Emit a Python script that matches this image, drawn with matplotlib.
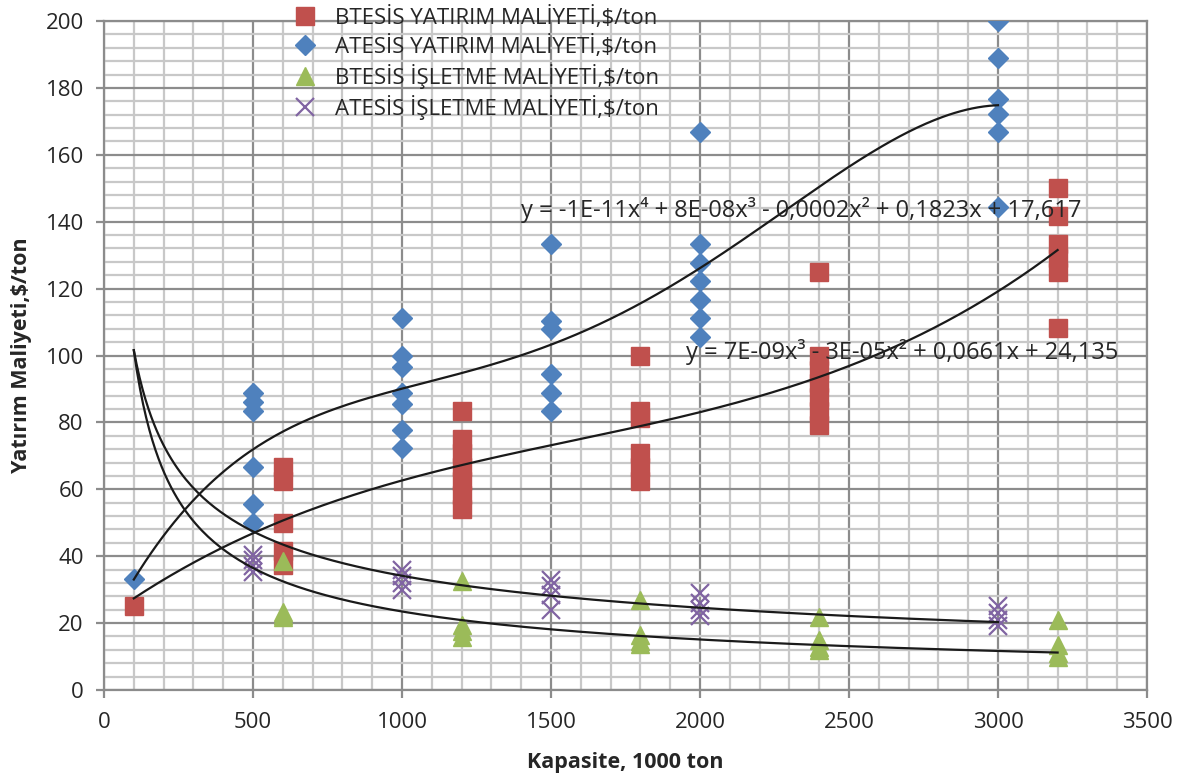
import numpy as np
import matplotlib
matplotlib.use("Agg")
import matplotlib.pyplot as plt
from matplotlib.ticker import MultipleLocator

plt.rcParams['font.family'] = ['Open Sans', 'DejaVu Sans']

# ---- data ----
bt_yat_x = [100, 600, 600, 600, 600, 600,
            1200, 1200, 1200, 1200, 1200, 1200, 1200,
            1800, 1800, 1800, 1800, 1800, 1800,
            2400, 2400, 2400, 2400, 2400, 2400, 2400,
            3200, 3200, 3200, 3200, 3200, 3200]
bt_yat_y = [25.0, 66.7, 62.5, 50.0, 41.7, 37.5,
            83.3, 75.0, 70.8, 66.7, 62.5, 58.3, 54.2,
            100.0, 83.3, 81.3, 70.8, 66.7, 62.5,
            125.0, 100.0, 95.8, 91.7, 87.5, 83.3, 79.2,
            150.0, 141.7, 133.3, 129.2, 125.0, 108.3]

at_yat_x = [100, 500, 500, 500, 500, 500, 500,
            1000, 1000, 1000, 1000, 1000, 1000, 1000,
            1500, 1500, 1500, 1500, 1500, 1500,
            2000, 2000, 2000, 2000, 2000, 2000, 2000,
            3000, 3000, 3000, 3000, 3000, 3000]
at_yat_y = [33.3, 88.9, 86.1, 83.3, 66.7, 55.6, 50.0,
            111.1, 100.0, 96.7, 88.9, 85.6, 77.8, 72.2,
            133.3, 110.3, 107.8, 94.4, 88.9, 83.3,
            166.7, 133.3, 127.8, 122.2, 116.7, 111.1, 105.6,
            200.0, 188.9, 176.7, 172.2, 166.7, 144.4]

bt_isl_x = [600, 600, 600, 600, 1200, 1200, 1200, 1200,
            1800, 1800, 1800, 1800, 2400, 2400, 2400, 2400,
            3200, 3200, 3200, 3200]
bt_isl_y = [38.5, 23.4, 22.5, 21.8, 32.5, 19.5, 17.5, 15.8,
            26.8, 16.5, 14.5, 13.8, 21.8, 15.0, 12.8, 12.0,
            20.8, 13.5, 11.0, 10.0]

at_isl_x = [500, 500, 500, 500, 1000, 1000, 1000, 1000,
            1500, 1500, 1500, 1500, 2000, 2000, 2000, 2000,
            3000, 3000, 3000, 3000]
at_isl_y = [40.5, 38.9, 37.0, 35.2, 36.0, 34.0, 32.0, 30.0,
            33.0, 31.0, 28.5, 24.0, 29.0, 26.0, 24.0, 22.0,
            25.0, 23.0, 21.0, 19.0]

labels = ["BTESİS YATIRIM MALİYETİ,$/ton",
          "ATESİS YATIRIM MALİYETİ,$/ton",
          "BTESİS İŞLETME MALİYETİ,$/ton",
          "ATESİS İŞLETME MALİYETİ,$/ton"]

# power trend lines (y = a * x^b) as shown on the chart
at_isl_trend = (899.2, -0.4735)
bt_isl_trend = (1903.0, -0.6363)
trend_start_x = 100

eq_at = "y = -1E-11x⁴ + 8E-08x³ - 0,0002x² + 0,1823x + 17,617"
eq_bt = "y = 7E-09x³ - 3E-05x² + 0,0661x + 24,135"

# ---- figure ----
fig = plt.figure(figsize=(11.78, 7.8), dpi=100)
ax = fig.add_axes([104/1178, 1-690/780, (1147-104)/1178, (690-21)/780])

red, blue, green, purple = '#C0504D', '#4F81BD', '#9BBB59', '#8064A2'
txt = '#262626'

h1, = ax.plot(bt_yat_x, bt_yat_y, 's', color=red, ms=13.5, mec=red, ls='none', zorder=3)
h2, = ax.plot(at_yat_x, at_yat_y, 'D', color=blue, ms=10.3, mec=blue, ls='none', zorder=3)
h3, = ax.plot(bt_isl_x, bt_isl_y, '^', color=green, ms=13.5, mec=green, ls='none', zorder=3)
h4, = ax.plot(at_isl_x, at_isl_y, 'x', color=purple, ms=13, mew=1.6, ls='none', zorder=3)

# polynomial trend lines fitted to data
for xs, ys, deg in [(at_yat_x, at_yat_y, 4), (bt_yat_x, bt_yat_y, 3)]:
    xs = np.asarray(xs, float); ys = np.asarray(ys, float)
    c = np.polyfit(xs, ys, deg)
    xx = np.linspace(xs.min(), xs.max(), 300)
    ax.plot(xx, np.polyval(c, xx), color='#1a1a1a', lw=1.6, zorder=4)

for (a, b), xs in [(at_isl_trend, at_isl_x), (bt_isl_trend, bt_isl_x)]:
    xx = np.linspace(trend_start_x, max(xs), 300)
    ax.plot(xx, a * xx ** b, color='#1a1a1a', lw=1.6, zorder=4)

ax.set_xlim(0, 3500)
ax.set_ylim(0, 200)
ax.xaxis.set_major_locator(MultipleLocator(500))
ax.xaxis.set_minor_locator(MultipleLocator(100))
ax.yaxis.set_major_locator(MultipleLocator(20))
ax.yaxis.set_minor_locator(MultipleLocator(4))
ax.grid(which='minor', color='#c8c8c8', lw=1.6, zorder=0)
ax.grid(which='major', color='#8c8c8c', lw=1.6, zorder=1)
ax.set_axisbelow(True)
for s in ax.spines.values():
    s.set_color('#8c8c8c')
    s.set_linewidth(1.6)
ax.tick_params(which='major', length=5.5, width=1.6, color='#8c8c8c',
               labelsize=16, labelcolor=txt, pad=9)
ax.tick_params(axis='x', which='major', pad=10)
ax.tick_params(which='minor', length=0)

ax.set_xlabel("Kapasite, 1000 ton", fontsize=15.5, fontweight='bold', labelpad=14, color=txt)
ax.set_ylabel("Yatırım Maliyeti,$/ton", fontsize=15.5, fontweight='bold', labelpad=10, color=txt)

ax.text(1399, 143.5, eq_at, fontsize=17, ha='left', va='center', color=txt, zorder=5)
ax.text(1953, 101, eq_bt, fontsize=17, ha='left', va='center', color=txt, zorder=5)

fig.legend([h1, h2, h3, h4], labels, loc='upper left',
           bbox_to_anchor=(294/1178, 1 - 6/780), frameon=False, fontsize=16,
           numpoints=1, handlelength=1.0, handletextpad=0.85, labelspacing=0.27,
           borderpad=0, borderaxespad=0, labelcolor=txt)

fig.savefig("out.png", dpi=100)
